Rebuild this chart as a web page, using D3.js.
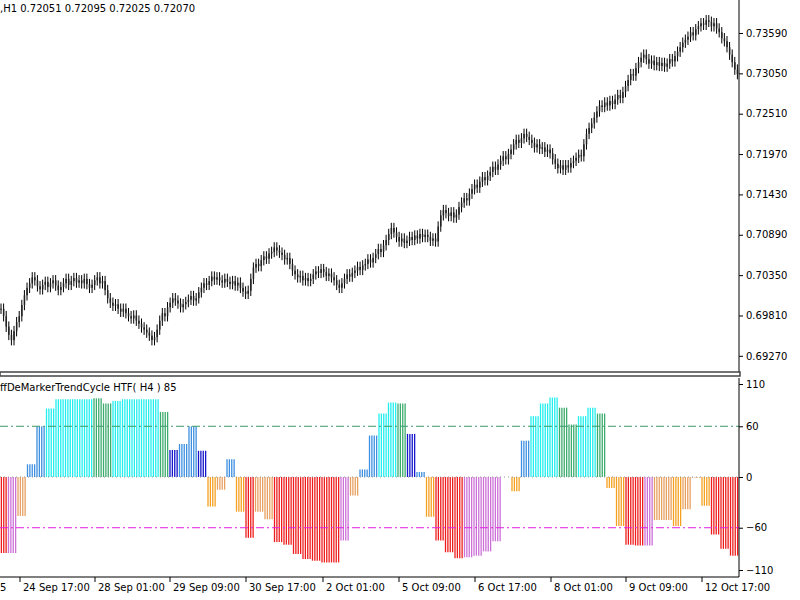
<!DOCTYPE html>
<html>
<head>
<meta charset="utf-8">
<script src="https://cdn.jsdelivr.net/npm/d3@7"></script>
<style>
    body { margin: 0; background: #fff; }
    text { font-family: "DejaVu Sans", sans-serif; font-size: 10px; fill: #000; }
</style>
</head>
<body>
<svg id="chart" width="800" height="600"></svg>
<script>
    "use strict";

    // H1 closes, in units of 0.0001 above 0.69000
    var closes = [
        90, 80, 66, 55, 48, 60, 72, 80, 95, 108, 118, 124, 132, 128, 120, 116,
        122, 126, 119, 124, 128, 121, 115, 119, 124, 130, 122, 127, 131, 125, 128, 124,
        130, 123, 118, 122, 128, 132, 124, 127, 115, 104, 98, 94, 96, 90, 86, 90,
        84, 80, 77, 81, 74, 70, 65, 62, 58, 54, 48, 52, 62, 74, 84, 80,
        92, 98, 104, 101, 97, 92, 96, 99, 102, 107, 101, 104, 112, 118, 124, 122,
        127, 133, 129, 132, 128, 125, 130, 126, 123, 127, 121, 125, 118, 113, 110, 114,
        130, 145, 150, 147, 155, 160, 157, 164, 166, 172, 168, 165, 162, 156, 158, 150,
        141, 136, 132, 134, 128, 131, 127, 130, 136, 140, 138, 143, 139, 134, 137, 132,
        128, 122, 118, 124, 130, 136, 133, 138, 141, 146, 142, 148, 150, 156, 152, 158,
        163, 170, 166, 175, 182, 190, 198, 192, 186, 180, 184, 178, 181, 186, 182, 188,
        184, 190, 186, 189, 186, 181, 184, 180, 200, 215, 222, 218, 214, 219, 212, 216,
        226, 232, 238, 235, 244, 250, 256, 252, 260, 266, 262, 268, 273, 280, 276, 283,
        288, 294, 290, 297, 303, 310, 316, 312, 318, 324, 320, 316, 312, 306, 310, 304,
        306, 300, 303, 298, 290, 284, 278, 282, 276, 282, 279, 285, 288, 292, 296, 294,
        310, 324, 332, 338, 346, 354, 362, 360, 366, 362, 368, 364, 370, 376, 372, 380,
        388, 396, 404, 402, 412, 420, 426, 430, 424, 418, 422, 416, 420, 415, 419, 414,
        418, 424, 421, 428, 434, 440, 446, 450, 454, 460, 456, 464, 468, 472, 470, 476,
        474, 468, 472, 465, 460, 452, 448, 440, 430, 420, 410, 404
    ];
    var priceTicks = [0.73590, 0.73050, 0.72510, 0.71970, 0.71430, 0.70890, 0.70350, 0.69810, 0.69270];

    // H4 indicator values and colour codes, one per group of four H1 bars
    var trendValues = [
        -90, -90, -46, 15, 60, 81, 92, 92, 92, 92, 93, 87, 90, 92, 92, 92, 92, 77, 32, 39,
        60, 31, -35, -15, 21, -41, -72, -41, -50, -77, -80, -91, -97, -99, -101, -101, -75, -22, 9, 49,
        75, 88, 87, 51, 6, -47, -75, -89, -96, -95, -93, -88, -76, 0, -17, 43, 72, 87, 94, 82,
        62, 72, 82, 75, -13, -58, -80, -81, -81, -51, -51, -58, -38, -1, -34, -68, -85, -93
    ];
    var trendColors = (
        "rvtbbccccc" + "ggcccccgdb" + "bdotbortt" + "rrrrrrrvtb" + "bcc" +
        "gdborrrvvvv" + "oobcccggccg" + "oorrvttotto" + "rrr"
    ).split("");
    var indTicks = [110, 60, 0, -60, -110];
    var levels = [60, -60];

    var timeLabels = ["5", "24 Sep 17:00", "28 Sep 01:00", "29 Sep 09:00", "30 Sep 17:00", "2 Oct 01:00",
                      "5 Oct 09:00", "6 Oct 17:00", "8 Oct 01:00", "9 Oct 09:00", "12 Oct 17:00"];
    var timePos = [-3, 20, 95, 170, 246, 323, 399, 475, 551, 626, 702];

    var palette = {
        c: "#22eeee", g: "#3cab6e", b: "#3d8fe0", d: "#1515cc",
        o: "#f5a020", t: "#e8a060", r: "#ee1c1c", v: "#cc70d8"
    };

    var svg = d3.select("#chart");
    var plotRight = 739;

    // ---- price panel
    var priceBottom = 372;
    var xPrice = d3.scaleBand().domain(d3.range(closes.length)).range([0, plotRight]);
    var yPrice = d3.scaleLinear().domain([0.69000, 0.73590]).range([376, 33]);
    var bars = closes.map(function (c, i) {
        var o = i > 0 ? closes[i - 1] : c;
        return { o: 0.69 + o / 10000, c: 0.69 + c / 10000,
                 h: 0.69 + (Math.max(o, c) + 7) / 10000, l: 0.69 + (Math.min(o, c) - 7) / 10000 };
    });
    var pg = svg.append("g");
    pg.selectAll("line.wick").data(bars).enter().append("line")
        .attr("x1", function (d, i) { return xPrice(i) + 1; })
        .attr("x2", function (d, i) { return xPrice(i) + 1; })
        .attr("y1", function (d) { return yPrice(d.h); })
        .attr("y2", function (d) { return yPrice(d.l); })
        .attr("stroke", "#000").attr("stroke-width", 1);
    pg.selectAll("rect").data(bars).enter().append("rect")
        .attr("x", function (d, i) { return xPrice(i) + 0.3; })
        .attr("width", 1.5)
        .attr("y", function (d) { return yPrice(Math.max(d.o, d.c)); })
        .attr("height", function (d) { return Math.max(1, Math.abs(yPrice(d.o) - yPrice(d.c))); })
        .attr("fill", "#222");

    var priceAxis = d3.axisRight(yPrice).tickValues(priceTicks).tickSize(4)
        .tickFormat(d3.format(".5f"));
    svg.append("g").attr("transform", "translate(" + plotRight + ",0)").call(priceAxis)
        .call(function (g) { g.select(".domain").attr("d", "M0,0V" + priceBottom); });

    svg.append("text").attr("x", 0).attr("y", 12)
        .text(",H1  0.72051 0.72095 0.72025 0.72070");

    // separator between panels
    svg.append("rect").attr("x", 0).attr("y", priceBottom).attr("width", plotRight + 1).attr("height", 4)
        .attr("fill", "#fff").attr("stroke", "#444").attr("stroke-width", 1.5);

    // ---- indicator panel
    var indTop = 378, indBottom = 577;
    var yInd = d3.scaleLinear().domain([-110, 110]).range([570, 384]);
    var xInd = d3.scaleBand().domain(d3.range(trendValues.length)).range([-2, plotRight]);
    var step = xInd.bandwidth() / 4;

    var ig = svg.append("g");
    trendValues.forEach(function (v, i) {
        if (v === 0) { return; }
        ig.selectAll(null).data([0, 1, 2, 3]).enter().append("line")
            .attr("x1", function (k) { return xInd(i) + k * step + 1; })
            .attr("x2", function (k) { return xInd(i) + k * step + 1; })
            .attr("y1", yInd(0))
            .attr("y2", yInd(v))
            .attr("stroke", palette[trendColors[i]])
            .attr("stroke-width", 1.3);
    });

    svg.append("line").attr("x1", 0).attr("x2", plotRight).attr("y1", yInd(0)).attr("y2", yInd(0))
        .attr("stroke", "#999").attr("stroke-dasharray", "1,3");
    svg.selectAll("line.level").data(levels).enter().append("line")
        .attr("x1", 0).attr("x2", plotRight)
        .attr("y1", function (d) { return yInd(d); }).attr("y2", function (d) { return yInd(d); })
        .attr("stroke", function (d) { return d > 0 ? "#3c9a6a" : "#e020e0"; })
        .attr("stroke-dasharray", "8,3,2,3");

    var indAxis = d3.axisRight(yInd).tickValues(indTicks).tickSize(4);
    svg.append("g").attr("transform", "translate(" + plotRight + ",0)").call(indAxis)
        .call(function (g) { g.select(".domain").attr("d", "M0," + indTop + "V" + indBottom); });

    svg.append("text").attr("x", 0).attr("y", 391).text("ffDeMarkerTrendCycle HTF( H4 ) 85");

    // bottom frame and time axis
    svg.append("line").attr("x1", 0).attr("x2", plotRight).attr("y1", indBottom).attr("y2", indBottom)
        .attr("stroke", "#000");
    var tg = svg.selectAll("g.tick-t").data(timeLabels).enter().append("g")
        .attr("transform", function (d, i) { return "translate(" + timePos[i] + "," + indBottom + ")"; });
    tg.append("line").attr("y1", 0).attr("y2", 5).attr("stroke", "#000");
    tg.append("text").attr("x", 3).attr("y", 14).text(function (d) { return d; });
    svg.selectAll(".tick text").style("font-family", "DejaVu Sans").style("font-size", "10px");
    svg.selectAll(".domain, .tick line").attr("stroke", "#000");
</script>
</body>
</html>
